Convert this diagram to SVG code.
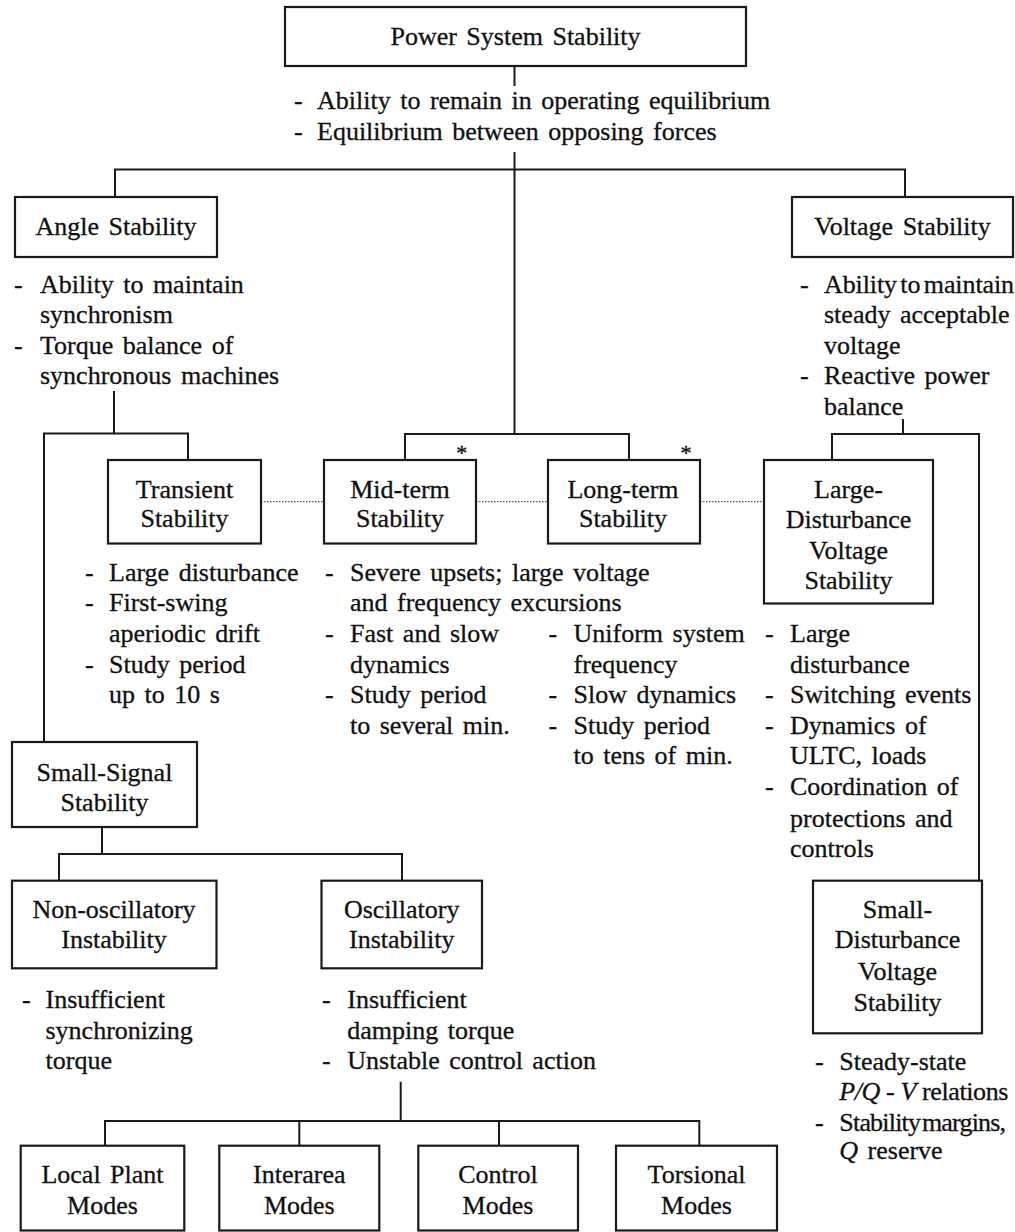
<svg xmlns="http://www.w3.org/2000/svg" width="1015" height="1232" viewBox="0 0 1015 1232">
<style>
.box{fill:#fff;stroke:#1a1a1a;stroke-width:2.2}
.t{font-family:"Liberation Serif","Times New Roman",serif;font-size:26px;fill:#111;stroke:#111;stroke-width:0.3;word-spacing:3px}
.c{text-anchor:middle}
.i{font-style:italic}
.conn{fill:none;stroke:#1a1a1a;stroke-width:2}
.dot{fill:none;stroke:#555;stroke-width:1.3;stroke-dasharray:1.5 1.5}
.ast{font-family:"Liberation Serif","Times New Roman",serif;font-size:22px;fill:#111;stroke:#111;stroke-width:0.4;text-anchor:middle}
</style>
<rect width="1015" height="1232" fill="#fff"/>
<g id="connectors">
<path class="conn" d="M514.5 66V86M514.5 152V434M115 197V169.5H905V197"/>
<path class="conn" d="M114 391V433.5M44 742V433.5H188V460"/>
<path class="conn" d="M405 460V434H629V460"/>
<path class="conn" d="M903 419V434M832 460V434H979V880.7"/>
<path class="conn" d="M102 827V854M59 880.7V854H402V880.7"/>
<path class="conn" d="M400.7 1081.7V1121M105 1145.7V1121H699.3V1145.7M299.3 1121V1145.7M499 1121V1145.7"/>
<path class="dot" d="M261 501.7H324M476 501.7H548M700 501.7H764"/>
</g>
<g id="power-system-stability">
<rect class="box" x="285" y="7" width="461" height="59"/>
<text class="t c" x="515.5" y="45">Power System Stability</text>
<text class="t" x="294" y="109">-</text>
<text class="t" x="317" y="109">Ability to remain in operating equilibrium</text>
<text class="t" x="294" y="140">-</text>
<text class="t" x="317" y="140">Equilibrium between opposing forces</text>
</g>
<g id="angle-stability">
<rect class="box" x="15" y="197" width="202" height="60"/>
<text class="t c" x="116" y="235">Angle Stability</text>
<text class="t" x="14" y="292.5">-</text>
<text class="t" x="40" y="292.5">Ability to maintain</text>
<text class="t" x="40" y="323">synchronism</text>
<text class="t" x="14" y="353.5">-</text>
<text class="t" x="40" y="353.5">Torque balance of</text>
<text class="t" x="40" y="384">synchronous machines</text>
</g>
<g id="voltage-stability">
<rect class="box" x="792" y="197" width="221" height="60"/>
<text class="t c" x="902.5" y="235">Voltage Stability</text>
<text class="t" x="800" y="292.5">-</text>
<text class="t" x="824" y="292.5" style="word-spacing:-3px;letter-spacing:-0.1px">Ability to maintain</text>
<text class="t" x="824" y="323">steady acceptable</text>
<text class="t" x="824" y="353.5">voltage</text>
<text class="t" x="800" y="384">-</text>
<text class="t" x="824" y="384">Reactive power</text>
<text class="t" x="824" y="414.5">balance</text>
</g>
<g id="transient-stability">
<rect class="box" x="108" y="460" width="153" height="83.5"/>
<text class="t c" x="184.5" y="497.5">Transient</text>
<text class="t c" x="184.5" y="527">Stability</text>
<text class="t" x="85" y="580.5">-</text>
<text class="t" x="109" y="580.5">Large disturbance</text>
<text class="t" x="85" y="611">-</text>
<text class="t" x="109" y="611">First-swing</text>
<text class="t" x="109" y="641.5">aperiodic drift</text>
<text class="t" x="85" y="672.5">-</text>
<text class="t" x="109" y="672.5">Study period</text>
<text class="t" x="109" y="703">up to 10 s</text>
</g>
<g id="mid-term-stability">
<rect class="box" x="324" y="460" width="152" height="83.5"/>
<text class="t c" x="400" y="497.5">Mid-term</text>
<text class="t c" x="400" y="527">Stability</text>
<text class="ast" x="461.7" y="460">*</text>
<text class="t" x="325" y="580.5">-</text>
<text class="t" x="350" y="580.5">Severe upsets; large voltage</text>
<text class="t" x="350" y="611">and frequency excursions</text>
<text class="t" x="325" y="641.5">-</text>
<text class="t" x="350" y="641.5">Fast and slow</text>
<text class="t" x="350" y="672.5">dynamics</text>
<text class="t" x="325" y="703">-</text>
<text class="t" x="350" y="703">Study period</text>
<text class="t" x="350" y="733.5">to several min.</text>
</g>
<g id="long-term-stability">
<rect class="box" x="548" y="460" width="152" height="83.5"/>
<text class="t c" x="623" y="497.5">Long-term</text>
<text class="t c" x="623" y="527">Stability</text>
<text class="ast" x="686" y="460">*</text>
<text class="t" x="548.5" y="641.5">-</text>
<text class="t" x="573.5" y="641.5">Uniform system</text>
<text class="t" x="573.5" y="672.5">frequency</text>
<text class="t" x="548.5" y="703">-</text>
<text class="t" x="573.5" y="703">Slow dynamics</text>
<text class="t" x="548.5" y="733.5">-</text>
<text class="t" x="573.5" y="733.5">Study period</text>
<text class="t" x="573.5" y="764">to tens of min.</text>
</g>
<g id="large-disturbance-voltage-stability">
<rect class="box" x="764" y="460" width="169" height="143.5"/>
<text class="t c" x="848.5" y="497.5">Large-</text>
<text class="t c" x="848.5" y="528">Disturbance</text>
<text class="t c" x="848.5" y="558.5">Voltage</text>
<text class="t c" x="848.5" y="589">Stability</text>
<text class="t" x="765" y="641.5">-</text>
<text class="t" x="790" y="641.5">Large</text>
<text class="t" x="790" y="672.5">disturbance</text>
<text class="t" x="765" y="703">-</text>
<text class="t" x="790" y="703">Switching events</text>
<text class="t" x="765" y="733.5">-</text>
<text class="t" x="790" y="733.5">Dynamics of</text>
<text class="t" x="790" y="764">ULTC, loads</text>
<text class="t" x="765" y="795">-</text>
<text class="t" x="790" y="795">Coordination of</text>
<text class="t" x="790" y="826.5">protections and</text>
<text class="t" x="790" y="857">controls</text>
</g>
<g id="small-signal-stability">
<rect class="box" x="12" y="742" width="185" height="85"/>
<text class="t c" x="104.5" y="780.5">Small-Signal</text>
<text class="t c" x="104.5" y="811">Stability</text>
</g>
<g id="non-oscillatory-instability">
<rect class="box" x="12" y="880.7" width="204.5" height="87.6"/>
<text class="t c" x="114" y="918">Non-oscillatory</text>
<text class="t c" x="114" y="948">Instability</text>
<text class="t" x="22" y="1008">-</text>
<text class="t" x="45.5" y="1008">Insufficient</text>
<text class="t" x="45.5" y="1039">synchronizing</text>
<text class="t" x="45.5" y="1069">torque</text>
</g>
<g id="oscillatory-instability">
<rect class="box" x="321.5" y="880.7" width="160.5" height="87.6"/>
<text class="t c" x="401.7" y="918">Oscillatory</text>
<text class="t c" x="401.7" y="948">Instability</text>
<text class="t" x="322" y="1008">-</text>
<text class="t" x="347.3" y="1008">Insufficient</text>
<text class="t" x="347.3" y="1039">damping torque</text>
<text class="t" x="322" y="1069">-</text>
<text class="t" x="347.3" y="1069">Unstable control action</text>
</g>
<g id="small-disturbance-voltage-stability">
<rect class="box" x="813" y="880.7" width="169" height="152.6"/>
<text class="t c" x="897.5" y="918">Small-</text>
<text class="t c" x="897.5" y="948.3">Disturbance</text>
<text class="t c" x="897.5" y="980">Voltage</text>
<text class="t c" x="897.5" y="1010.5">Stability</text>
<text class="t" x="815" y="1070">-</text>
<text class="t" x="839.3" y="1070">Steady-state</text>
<text class="t" x="839.3" y="1100" style="word-spacing:0px;letter-spacing:-0.4px"><tspan class="i">P/Q</tspan> - <tspan class="i">V</tspan> relations</text>
<text class="t" x="815" y="1130.5">-</text>
<text class="t" x="839.3" y="1130.5" style="word-spacing:-4px;letter-spacing:-0.8px">Stability margins,</text>
<text class="t" x="839.3" y="1158.5"><tspan class="i">Q</tspan> reserve</text>
</g>
<g id="local-plant-modes">
<rect class="box" x="20.7" y="1145.7" width="163.6" height="84.8"/>
<text class="t c" x="102.5" y="1182.5">Local Plant</text>
<text class="t c" x="102.5" y="1214">Modes</text>
</g>
<g id="interarea-modes">
<rect class="box" x="219.3" y="1145.7" width="160" height="84.8"/>
<text class="t c" x="299.3" y="1182.5">Interarea</text>
<text class="t c" x="299.3" y="1214">Modes</text>
</g>
<g id="control-modes">
<rect class="box" x="418.3" y="1145.7" width="159.7" height="84.8"/>
<text class="t c" x="498" y="1182.5">Control</text>
<text class="t c" x="498" y="1214">Modes</text>
</g>
<g id="torsional-modes">
<rect class="box" x="616" y="1145.7" width="161" height="84.8"/>
<text class="t c" x="696.5" y="1182.5">Torsional</text>
<text class="t c" x="696.5" y="1214">Modes</text>
</g>
</svg>
